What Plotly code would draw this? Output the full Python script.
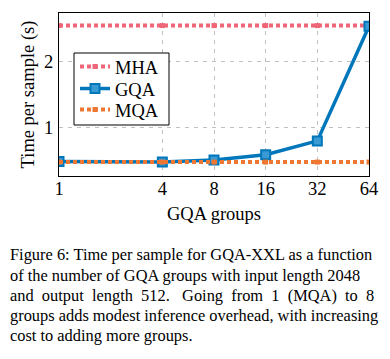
import plotly.graph_objects as go

groups = [1, 4, 8, 16, 32, 64]
mha_time = [2.54, 2.54, 2.54, 2.54, 2.54, 2.54]
gqa_time = [0.49, 0.48, 0.51, 0.59, 0.80, 2.53]
mqa_time = [0.48, 0.48, 0.48, 0.48, 0.48, 0.48]
x_ticks = [1, 4, 8, 16, 32, 64]
y_ticks = [1, 2]

NB = "\u00a0 "
caption_lines = [
    "Figure 6: Time per sample for GQA-XXL as a function",
    "of the number of GQA groups with input length 2048",
    NB.join("and output length 512.".split(" ")) + NB + " " + NB.join("Going from 1 (MQA) to 8".split(" ")),
    "groups adds modest inference overhead, with increasing",
    "cost to adding more groups.",
]

PINK = "#EE6677"
BLUE = "#0077BB"
ORANGE = "#EE7733"
FONT = "Liberation Serif"
FS = 18.5
CAP_FS = 16.4

L, R, T, B = 59, 369, 13, 176
W, H = 390, 359
pw, ph = R - L, B - T

def px(xp):
    return (xp - L) / pw

def py(yp):
    return (B - yp) / ph

fig = go.Figure()
fig.add_trace(go.Scatter(
    x=groups, y=mha_time, name="MHA", mode="lines+markers", legend="legend",
    line=dict(color=PINK, width=4, dash="4px,3px"),
    marker=dict(symbol="square", size=5, color=PINK),
))
fig.add_trace(go.Scatter(
    x=groups, y=gqa_time, name="GQA", mode="lines+markers", legend="legend2",
    line=dict(color=BLUE, width=3.5),
    marker=dict(symbol="square", size=9, color="#3a9ad4", line=dict(color=BLUE, width=2)),
))
fig.add_trace(go.Scatter(
    x=groups, y=mqa_time, name="MQA", mode="lines+markers", legend="legend3",
    line=dict(color=ORANGE, width=4, dash="4px,3px"),
    marker=dict(symbol="square", size=5, color=ORANGE),
))

annotations = []
for i, line in enumerate(caption_lines):
    annotations.append(dict(
        text=line, xref="paper", yref="paper",
        x=px(8), y=py(255 + 20 * i), xanchor="left", yanchor="middle",
        showarrow=False, font=dict(family=FONT, size=CAP_FS, color="black"),
    ))

def leg(yc):
    return dict(
        x=px(75), y=py(yc), xanchor="left", yanchor="middle",
        bgcolor="rgba(0,0,0,0)", borderwidth=0,
        font=dict(family=FONT, size=FS), itemwidth=30,
    )

fig.update_layout(
    width=W, height=H,
    margin=dict(l=L, r=W - R, t=T, b=H - B, autoexpand=False),
    paper_bgcolor="white", plot_bgcolor="white",
    font=dict(family=FONT, size=FS, color="black"),
    showlegend=True,
    legend=leg(67), legend2=leg(89), legend3=leg(110),
    annotations=annotations,
    shapes=[dict(
        type="rect", xref="paper", yref="paper", layer="above",
        x0=px(74), x1=px(169), y0=py(125), y1=py(53),
        line=dict(color="black", width=1), fillcolor="white",
    )],
)
fig.update_xaxes(
    type="log", range=[0, 1.80618], automargin=False,
    tickvals=x_ticks, ticktext=[str(v) for v in x_ticks],
    showgrid=True, gridcolor="#c0c0c0", griddash="4px,5px", gridwidth=1,
    showline=True, linecolor="black", linewidth=1, mirror=True,
    ticks="", ticklen=0, zeroline=False, ticklabelstandoff=-4,
    tickfont=dict(family=FONT, size=FS),
    title=dict(text="GQA groups", font=dict(family=FONT, size=FS), standoff=8),
)
fig.update_yaxes(
    range=[0.27, 2.73], automargin=False,
    tickvals=y_ticks,
    showgrid=True, gridcolor="#c0c0c0", griddash="4px,5px", gridwidth=1,
    showline=True, linecolor="black", linewidth=1, mirror=True,
    ticks="", ticklen=0, zeroline=False, ticklabelstandoff=1,
    tickfont=dict(family=FONT, size=FS),
    title=dict(text="Time per sample (s)", font=dict(family=FONT, size=FS), standoff=4),
)

fig.write_html("out.html", post_script="document.body.style.margin='0';",
               config={"displayModeBar": False})
